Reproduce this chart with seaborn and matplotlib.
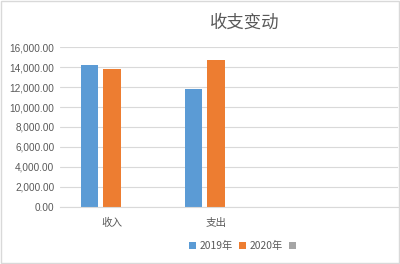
import matplotlib
matplotlib.use("Agg")
import matplotlib.pyplot as plt
import seaborn as sns
import pandas as pd
import numpy as np
from matplotlib.patches import Patch, Rectangle

categories = ["收入", "支出"]
series = ["2019年", "2020年", ""]
values_2019 = [14200, 11850]
values_2020 = [13850, 14700]
values_3 = [np.nan, np.nan]
yticks = [0, 2000, 4000, 6000, 8000, 10000, 12000, 14000, 16000]
colors = ["#5B9BD5", "#ED7D31", "#A5A5A5"]
title = "收支变动"

sns.set_theme(style="white")
plt.rcParams['font.family'] = ['Noto Sans CJK SC', 'DejaVu Sans']

rows = []
for s, vals in zip(series, [values_2019, values_2020, values_3]):
    for c, v in zip(categories, vals):
        rows.append({"cat": c, "series": s, "value": v})
df = pd.DataFrame(rows)

fig = plt.figure(figsize=(4, 2.64), dpi=100)
ax = fig.add_axes([0.15, 0.217, 0.845, 0.604])
sns.barplot(data=df, x="cat", y="value", hue="series", hue_order=series,
            palette=colors, saturation=1, width=0.65, gap=0.22, ax=ax, legend=False,
            edgecolor="none", linewidth=0)

ax.set_xlim(-0.5, 2.75)
ax.set_ylim(0, 16000)
ax.set_yticks(yticks)
ax.set_yticklabels([f"{v:,.2f}" for v in yticks], fontsize=7.2, color="#595959",
                   family=['Liberation Sans', 'DejaVu Sans'])
ax.set_xticks(range(len(categories)))
ax.set_xticklabels(categories, fontsize=7.6, color="#595959")
ax.tick_params(axis='both', length=0, pad=4)
ax.tick_params(axis='x', pad=8)
ax.set_xlabel("")
ax.set_ylabel("")
ax.grid(axis='y', color="#D9D9D9", linewidth=0.8)
ax.set_axisbelow(True)
for sp in ["top", "right", "left"]:
    ax.spines[sp].set_visible(False)
ax.spines["bottom"].set_color("#D9D9D9")
ax.spines["bottom"].set_linewidth(0.8)

fig.text(0.612, 0.915, title, ha="center", va="center", fontsize=12.5, color="#595959")

handles = [Patch(facecolor=c, edgecolor="none") for c in colors]
fig.legend(handles, series, loc="center", bbox_to_anchor=(0.61, 0.068), ncol=3,
           frameon=False, fontsize=7.4, handlelength=0.7, handleheight=0.7,
           handletextpad=0.3, columnspacing=0.6, labelcolor="#595959")

fig.patches.append(Rectangle((0.003, 0.004), 0.994, 0.992, transform=fig.transFigure,
                             fill=False, edgecolor="#D9D9D9", linewidth=1))

fig.savefig("out.png", dpi=100)
